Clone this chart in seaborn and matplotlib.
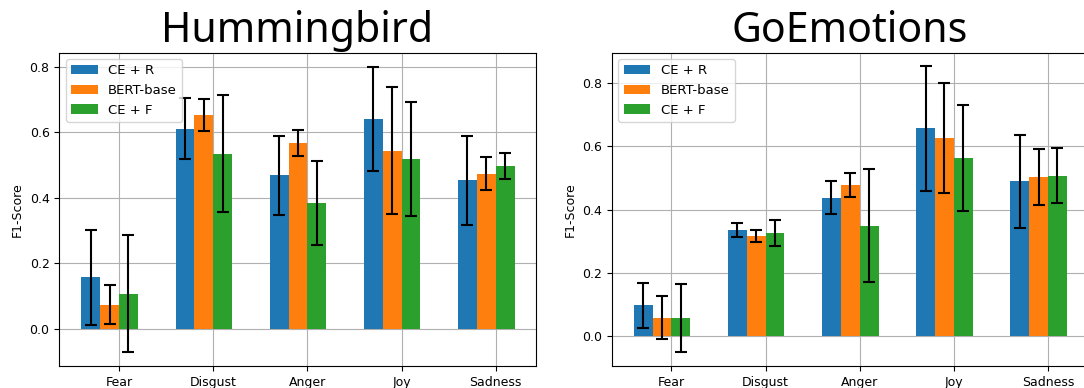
import matplotlib
matplotlib.use("Agg")
import matplotlib.pyplot as plt
import numpy as np
import pandas as pd
import seaborn as sns

emotions = ["Fear", "Disgust", "Anger", "Joy", "Sadness"]
models = ["CE + R", "BERT-base", "CE + F"]

# Hummingbird
hb_ce_r = [0.157, 0.610, 0.468, 0.641, 0.453]
hb_ce_r_err = [0.144, 0.093, 0.120, 0.159, 0.136]
hb_bert = [0.074, 0.653, 0.566, 0.544, 0.474]
hb_bert_err = [0.059, 0.048, 0.040, 0.194, 0.050]
hb_ce_f = [0.107, 0.535, 0.385, 0.518, 0.498]
hb_ce_f_err = [0.178, 0.178, 0.128, 0.175, 0.040]

# GoEmotions
ge_ce_r = [0.098, 0.337, 0.438, 0.657, 0.490]
ge_ce_r_err = [0.071, 0.022, 0.052, 0.197, 0.147]
ge_bert = [0.058, 0.317, 0.478, 0.627, 0.503]
ge_bert_err = [0.068, 0.019, 0.037, 0.174, 0.088]
ge_ce_f = [0.058, 0.327, 0.350, 0.563, 0.508]
ge_ce_f_err = [0.108, 0.041, 0.180, 0.168, 0.087]

colors = ["#1f77b4", "#ff7f0e", "#2ca02c"]
group_shift = -0.1  # groups are drawn left of the tick in the original
FS = 9


def build(vals):
    rows = []
    for m, v in zip(models, vals):
        for e, x in zip(emotions, v):
            rows.append({"Emotion": e, "Model": m, "F1": x})
    return pd.DataFrame(rows)


fig = plt.figure(figsize=(10.84, 3.88), dpi=100)
W, H = 1084.0, 388.0
ax1 = fig.add_axes([59.3 / W, (388 - 366) / H, 476.4 / W, 313.5 / H])
ax2 = fig.add_axes([611.7 / W, (388 - 366) / H, 476.4 / W, 313.5 / H])

panels = [
    (ax1, "Hummingbird", [hb_ce_r, hb_bert, hb_ce_f], [hb_ce_r_err, hb_bert_err, hb_ce_f_err], (-0.113, 0.843)),
    (ax2, "GoEmotions", [ge_ce_r, ge_bert, ge_ce_f], [ge_ce_r_err, ge_bert_err, ge_ce_f_err], (-0.094, 0.897)),
]

for ax, title, vals, errs, ylim in panels:
    df = build(vals)
    sns.barplot(data=df, x="Emotion", y="F1", hue="Model", order=emotions,
                hue_order=models, palette=colors, saturation=1, width=0.6,
                errorbar=None, linewidth=0, ax=ax)
    for cont, err in zip(ax.containers, errs):
        for b in cont:
            b.set_x(b.get_x() + group_shift)
        xs = [b.get_x() + b.get_width() / 2 for b in cont]
        ys = [b.get_height() for b in cont]
        ax.errorbar(xs, ys, yerr=err, fmt="none", ecolor="black",
                    elinewidth=1.5, capsize=4, capthick=1.5, zorder=5)
    ax.set_axisbelow(True)
    ax.grid(True, color="#b0b0b0", linewidth=0.8)
    ax.set_xlim(-0.634, 4.425)
    ax.set_ylim(*ylim)
    ax.set_yticks([0.0, 0.2, 0.4, 0.6, 0.8])
    ax.set_xlabel("")
    ax.set_ylabel("F1-Score", fontsize=FS)
    ax.tick_params(labelsize=FS)
    ax.set_title(title, fontsize=29.5, family="Noto Sans", pad=6)
    sns.move_legend(ax, "upper left", title=None, fontsize=9.5)
    for s in ax.spines.values():
        s.set_color("black")

fig.savefig("out.png", dpi=100)
